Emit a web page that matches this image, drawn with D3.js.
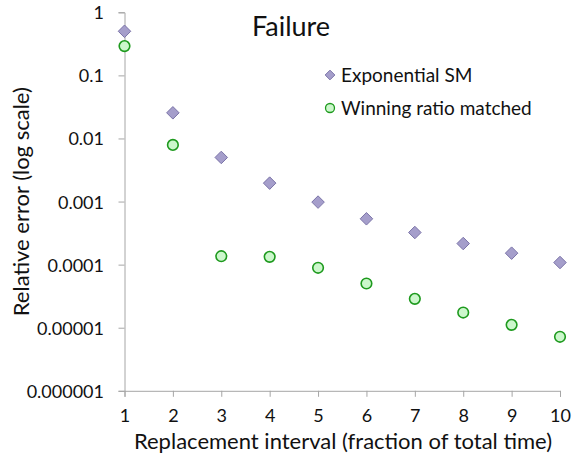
<!DOCTYPE html>
<html>
<head>
<meta charset="utf-8">
<script src="https://cdn.jsdelivr.net/npm/d3@7"></script>
<style>
  html, body { margin: 0; padding: 0; background: #fff; }
  svg text { font-family: Lato, "Open Sans", sans-serif; fill: #111; }
</style>
</head>
<body>
<svg id="chart" width="573" height="456"></svg>
<script>
// Replacement interval (fraction of total time)
const intervals = [1, 2, 3, 4, 5, 6, 7, 8, 9, 10];
// Relative error, exponential SM model
const exponentialSM = [0.50, 0.0255, 0.0050, 0.00196, 0.00098, 0.000533, 0.000323, 0.000216, 0.000152, 0.000108];
// Relative error, winning-ratio-matched model
const winningRatio = [0.291, 0.0079, 0.000136, 0.000133, 0.0000891, 0.0000502, 0.0000287, 0.0000174, 0.0000111, 0.00000718];
// Y tick values and their labels
const yTickValues = [1, 0.1, 0.01, 0.001, 0.0001, 0.00001, 0.000001];
const yTickLabels = ["1", "0.1", "0.01", "0.001", "0.0001", "0.00001", "0.000001"];
const seriesNames = ["Exponential SM", "Winning ratio matched"];

const svg = d3.select("#chart");
const axisColor = "#a6a6a6";

const x = d3.scaleLinear().domain([1, 10]).range([124.5, 560]);
const y = d3.scaleLog().domain([1e-6, 1]).range([390.8, 12.3]);

// Y axis
const yAxis = d3.axisLeft(y)
  .tickValues(yTickValues)
  .tickFormat((d, i) => yTickLabels[i])
  .tickSize(6)
  .tickPadding(14.5);
const gy = svg.append("g").attr("transform", "translate(124.5,0)").call(yAxis);
gy.select(".domain").attr("stroke", axisColor);
gy.selectAll(".tick line").attr("stroke", axisColor);
gy.selectAll(".tick text").style("font-size", "18px").attr("fill", "#111").attr("dy", "0.36em");

// X axis
const xAxis = d3.axisBottom(x)
  .tickValues(intervals)
  .tickFormat(d3.format("d"))
  .tickSize(6)
  .tickPadding(12);
const gx = svg.append("g").attr("transform", "translate(0,390.8)").call(xAxis);
gx.select(".domain").attr("stroke", axisColor);
gx.selectAll(".tick line").attr("stroke", axisColor);
gx.selectAll(".tick text").style("font-size", "18px").attr("fill", "#111");

// Axis titles
svg.append("text")
  .attr("x", 343).attr("y", 448.5)
  .attr("text-anchor", "middle")
  .style("font-size", "22px")
  .text("Replacement interval (fraction of total time)");

svg.append("text")
  .attr("transform", "translate(29,201.7) rotate(-90)")
  .attr("text-anchor", "middle")
  .style("font-size", "22px")
  .text("Relative error (log scale)");

// Title
svg.append("text")
  .attr("x", 291).attr("y", 36)
  .attr("text-anchor", "middle")
  .style("font-size", "27px")
  .text("Failure");

const diamond = d3.symbol().type(d3.symbolDiamond2).size(100);
const diamondFill = "#a59ecb", diamondStroke = "#7b74a8";
const circleFill = "#ccf7cc", circleStroke = "#1e9a1e";

// Exponential SM markers
svg.append("g").selectAll("path")
  .data(intervals.map((d, i) => [d, exponentialSM[i]]))
  .join("path")
  .attr("d", diamond)
  .attr("transform", d => `translate(${x(d[0])},${y(d[1])})`)
  .attr("fill", diamondFill)
  .attr("stroke", diamondStroke)
  .attr("stroke-width", 1);

// Winning ratio matched markers
svg.append("g").selectAll("circle")
  .data(intervals.map((d, i) => [d, winningRatio[i]]))
  .join("circle")
  .attr("cx", d => x(d[0]))
  .attr("cy", d => y(d[1]))
  .attr("r", 5.3)
  .attr("fill", circleFill)
  .attr("stroke", circleStroke)
  .attr("stroke-width", 1.6);

// Legend
const legend = svg.append("g");
legend.append("path")
  .attr("d", d3.symbol().type(d3.symbolDiamond2).size(60))
  .attr("transform", "translate(330,75)")
  .attr("fill", diamondFill).attr("stroke", diamondStroke);
legend.append("text").attr("x", 341).attr("y", 82)
  .style("font-size", "19px").text(seriesNames[0]);
legend.append("circle").attr("cx", 330).attr("cy", 108).attr("r", 4.5)
  .attr("fill", circleFill).attr("stroke", circleStroke).attr("stroke-width", 1.3);
legend.append("text").attr("x", 341).attr("y", 115)
  .style("font-size", "19px").text(seriesNames[1]);
</script>
</body>
</html>
